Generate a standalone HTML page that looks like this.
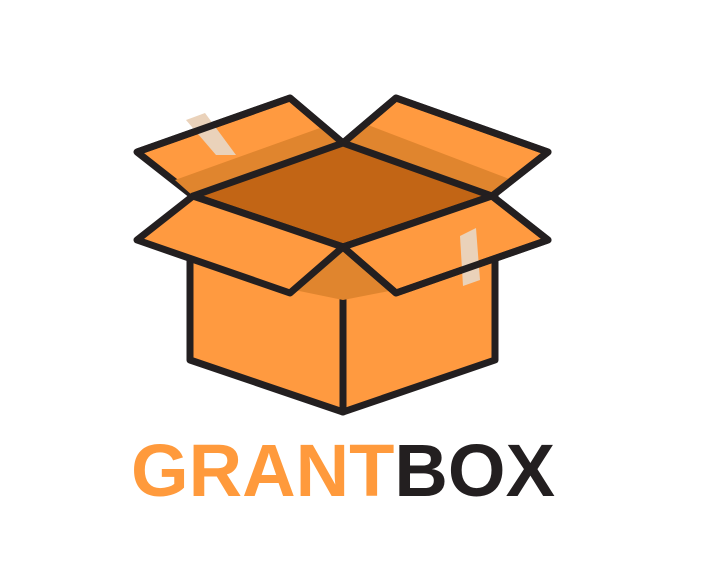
<!DOCTYPE html>
<html><head><meta charset="utf-8"><style>
html,body{margin:0;padding:0;background:#fff;width:704px;height:588px;overflow:hidden}
svg{display:block}
</style></head><body>
<svg width="704" height="588" viewBox="0 0 704 588">
<g stroke="#231f20" stroke-width="7" stroke-linejoin="round" stroke-linecap="round">
  <polygon points="137,152 290,98 343,143 193,196" fill="#FF9A40"/>
  <polygon points="175,180 320,128 343,143 193,196" fill="#E0852E" stroke="none"/>
  <polygon points="343,143 396,98 548,152 492,196" fill="#FF9A40"/>
  <polygon points="343,143 368,125 512,180 492,196" fill="#E0852E" stroke="none"/>
  <polygon points="343,143 492,196 343,247 193,196" fill="#C26515"/>
  <polygon points="190,205 343,247 343,412 190,360" fill="#FF9A40"/>
  <polygon points="343,247 495,196 495,360 343,412" fill="#FF9A40"/>
  <polygon points="270,285 343,247 343,300" fill="#E0852E" stroke="none"/>
  <polygon points="343,247 420,285 343,300" fill="#E0852E" stroke="none"/>
  <polygon points="193,196 137,240 290,293 343,247" fill="#FF9A40"/>
  <polygon points="343,247 396,293 548,240 492,196" fill="#FF9A40"/>
</g>
<polygon points="186,120 205,113 236,155 216,155" fill="#EAD2BA"/>
<polygon points="460,236 476,228 480,280 463,286" fill="#EAD2BA"/>
<g stroke="#231f20" stroke-width="7" stroke-linejoin="round" fill="none">
  <polyline points="137,152 290,98 343,143"/>
  <polyline points="343,143 396,98 548,152 492,196"/>
  <polyline points="343,247 396,293 548,240 492,196"/>
</g>
<text x="131" y="496" font-family="Liberation Sans, sans-serif" font-weight="bold" font-size="74" textLength="424" lengthAdjust="spacingAndGlyphs"><tspan fill="#FF9A3C">GRANT</tspan><tspan fill="#231f20">BOX</tspan></text>
</svg>
</body></html>
